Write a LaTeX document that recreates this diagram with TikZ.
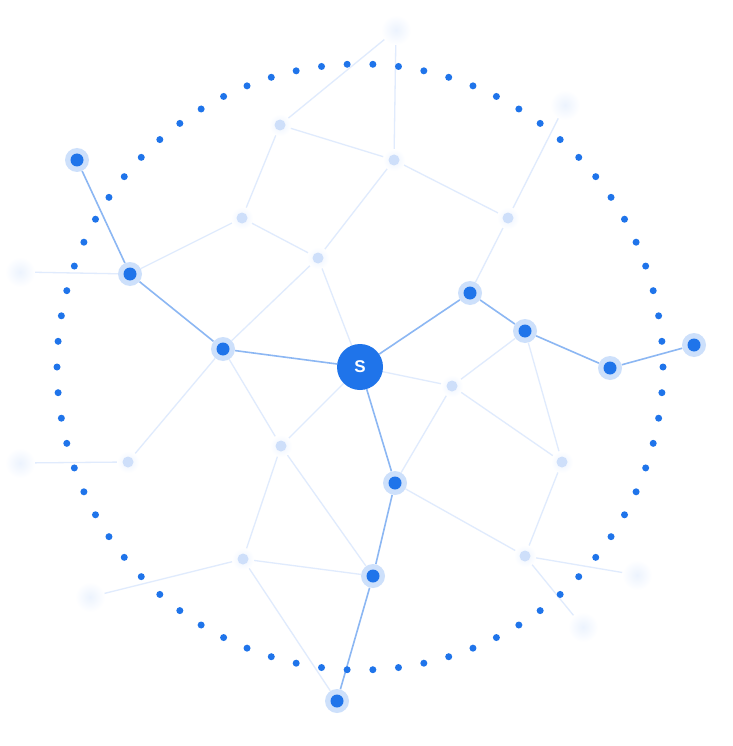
\documentclass[tikz,border=0pt]{standalone}
\usepackage{fontspec}
\setsansfont{Liberation Sans}
\usetikzlibrary{backgrounds}
\definecolor{actblue}{RGB}{31,116,234}
\definecolor{actedge}{RGB}{140,183,243}
\definecolor{halo}{RGB}{205,224,251}
\definecolor{fedge}{RGB}{224,235,253}
\definecolor{fcore}{RGB}{206,223,250}
\definecolor{fglow}{RGB}{236,243,254}
\definecolor{eglow}{RGB}{236,243,254}
\tikzset{
  active/.style={circle,inner sep=0pt,minimum size=24pt,fill=halo,
    path picture={\fill[actblue] (path picture bounding box.center) circle (6.5pt);}},
  faint/.style={circle,inner sep=0pt,minimum size=22pt,inner color=fglow,outer color=white,
    path picture={\fill[fcore] (path picture bounding box.center) circle (5.5pt);}},
  glow/.style={circle,inner sep=0pt,minimum size=30pt,inner color=eglow,outer color=white},
  source/.style={circle,inner sep=0pt,minimum size=46pt,fill=actblue,text=white,
    font=\sffamily\bfseries\fontsize{17}{17}\selectfont},
  aedge/.style={draw=actedge,line width=1.6pt},
  fline/.style={draw=fedge,line width=1.3pt},
  ringdot/.style={fill=actblue}
}
\begin{document}
\begin{tikzpicture}[x=1pt,y=-1pt]
\useasboundingbox (0,0) rectangle (732,746);
% dotted ring
\coordinate (O) at (360,367);
% glow-only edge nodes
\node[glow] (F5) at (396,30) {};
\node[glow] (F7) at (565,105) {};
\node[glow] (F8) at (20,272) {};
\node[glow] (F10) at (20,463) {};
\node[glow] (F13) at (90,597) {};
\node[glow] (F17) at (637,575) {};
\node[glow] (F18) at (583,627) {};
\foreach \i in {0,...,73}
  \fill[ringdot] (O) ++({\i*(360/74)}:303pt) circle (3.5pt);
% faint nodes
\node[faint] (F1) at (280,125) {};
\node[faint] (F2) at (242,218) {};
\node[faint] (F3) at (318,258) {};
\node[faint] (F4) at (394,160) {};
\node[faint] (F6) at (508,218) {};
\node[faint] (F9) at (128,462) {};
\node[faint] (F11) at (281,446) {};
\node[faint] (F12) at (243,559) {};
\node[faint] (F14) at (452,386) {};
\node[faint] (F15) at (562,462) {};
\node[faint] (F16) at (525,556) {};
% active nodes
\node[active] (A1) at (77,160) {};
\node[active] (A2) at (130,274) {};
\node[active] (A3) at (223,349) {};
\node[active] (B1) at (470,293) {};
\node[active] (B2) at (525,331) {};
\node[active] (B3) at (610,368) {};
\node[active] (B4) at (694,345) {};
\node[active] (C1) at (395,483) {};
\node[active] (C2) at (373,576) {};
\node[active] (C3) at (337,701) {};
\node[source] (S) at (360,367) {S};
\begin{scope}[on background layer]
  \fill[white] (0,0) rectangle (732,746);
  \draw[fline] (F1.center) -- (F5.center);
  \draw[fline] (F1) -- (F4);
  \draw[fline] (F1) -- (F2);
  \draw[fline] (F2) -- (A2);
  \draw[fline] (F2) -- (F3);
  \draw[fline] (F3) -- (F4);
  \draw[fline] (F3) -- (A3);
  \draw[fline] (F3) -- (S);
  \draw[fline] (A2) -- (F8.center);
  \draw[fline] (F4) -- (F5.center);
  \draw[fline] (F4) -- (F6);
  \draw[fline] (F6) -- (F7.center);
  \draw[fline] (F6) -- (B1);
  \draw[fline] (B2) -- (F14);
  \draw[fline] (B2) -- (F15);
  \draw[fline] (S) -- (F14);
  \draw[fline] (F14) -- (C1);
  \draw[fline] (F14) -- (F15);
  \draw[fline] (F15) -- (F16);
  \draw[fline] (C1) -- (F16);
  \draw[fline] (F16) -- (F17.center);
  \draw[fline] (F16) -- (F18.center);
  \draw[fline] (A3) -- (F11);
  \draw[fline] (A3) -- (F9);
  \draw[fline] (F9) -- (F10.center);
  \draw[fline] (F11) -- (S);
  \draw[fline] (F11) -- (F12);
  \draw[fline] (F11) -- (C2);
  \draw[fline] (F12) -- (F13.center);
  \draw[fline] (F12) -- (C2);
  \draw[fline] (F12) -- (C3);
  % active path
  \draw[aedge] (A1) -- (A2);
  \draw[aedge] (A2) -- (A3);
  \draw[aedge] (A3) -- (S);
  \draw[aedge] (S) -- (B1);
  \draw[aedge] (B1) -- (B2);
  \draw[aedge] (B2) -- (B3);
  \draw[aedge] (B3) -- (B4);
  \draw[aedge] (S) -- (C1);
  \draw[aedge] (C1) -- (C2);
  \draw[aedge] (C2) -- (C3);
\end{scope}
\end{tikzpicture}
\end{document}
